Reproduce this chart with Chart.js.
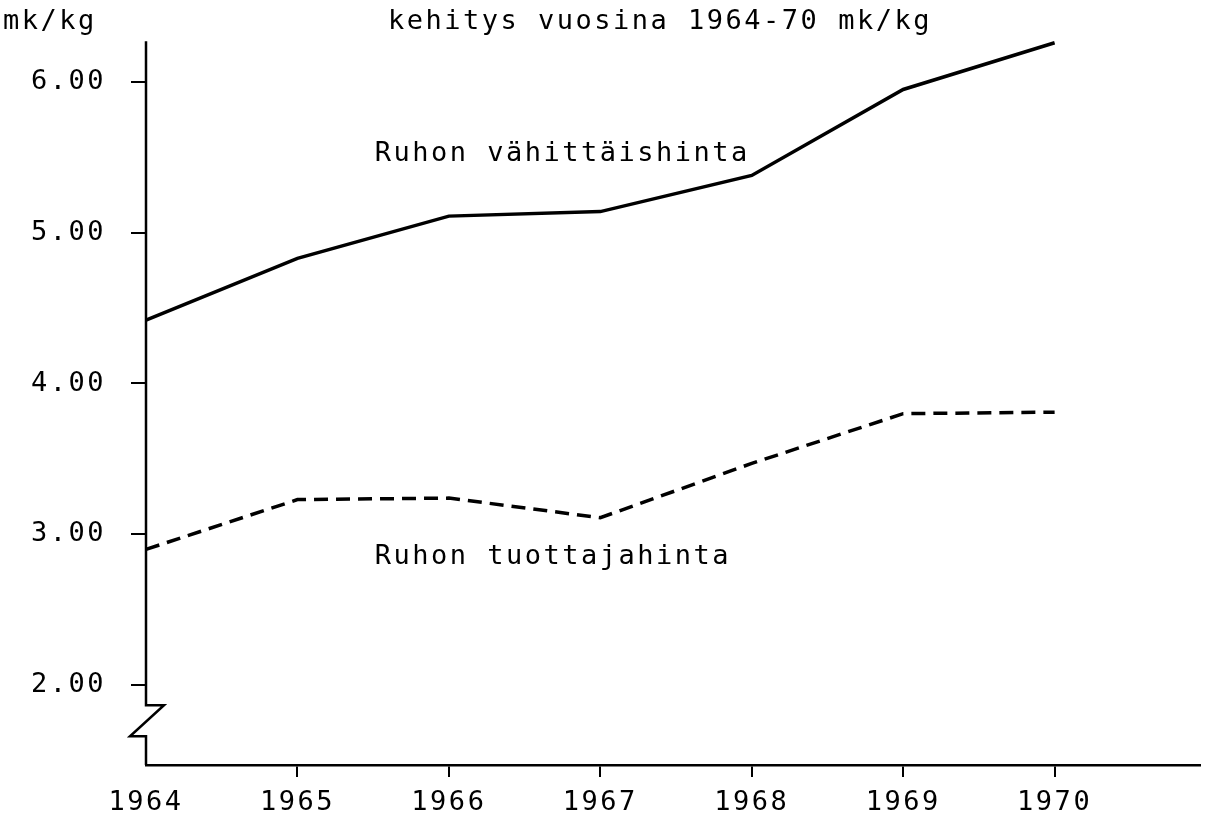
<!DOCTYPE html>
<html>
<head>
<meta charset="utf-8">
<script src="https://cdn.jsdelivr.net/npm/chart.js@4/dist/chart.umd.min.js"></script>
<style>
  html, body { margin: 0; padding: 0; background: #fff; }
  canvas { display: block; }
</style>
</head>
<body>
<canvas id="c" width="1214" height="822"></canvas>
<script>
// ---- data ----
const years = [1964, 1965, 1966, 1967, 1968, 1969, 1970];
const retailPrice   = [4.42, 4.83, 5.11, 5.14, 5.38, 5.95, 6.26]; // Ruhon vähittäishinta
const producerPrice = [2.90, 3.23, 3.24, 3.11, 3.47, 3.80, 3.81]; // Ruhon tuottajahinta
const xTickValues = [1964, 1965, 1966, 1967, 1968, 1969, 1970];
const yTickValues = [2, 3, 4, 5, 6];
const yUnitLabel = 'mk/kg';
const titleText = 'kehitys vuosina 1964-70 mk/kg';
const retailLabel = 'Ruhon vähittäishinta';
const producerLabel = 'Ruhon tuottajahinta';

const FONT = '"DejaVu Sans Mono", "Liberation Mono", monospace';
const FONT_SIZE = 27;
const SPACING = '2.5px';

const toPoints = (vals) => years.map((y, i) => ({ x: y, y: vals[i] }));

const spacingPlugin = {
  id: 'spacing',
  beforeUpdate(chart) { chart.ctx.letterSpacing = SPACING; },
  beforeDraw(chart) { chart.ctx.letterSpacing = SPACING; }
};

const decorPlugin = {
  id: 'decor',
  afterDraw(chart) {
    const ctx = chart.ctx;
    const xs = chart.scales.x, ys = chart.scales.y;
    const ax = xs.left;
    ctx.save();
    ctx.letterSpacing = SPACING;
    // y axis line with break
    ctx.strokeStyle = '#000';
    ctx.lineWidth = 2.5;
    ctx.lineJoin = 'miter';
    const yTop = ys.top;
    const yB1 = ys.getPixelForValue(1.867);
    const yB2 = ys.getPixelForValue(1.66);
    const yBot = ys.bottom;
    ctx.beginPath();
    ctx.moveTo(ax, yTop);
    ctx.lineTo(ax, yB1);
    ctx.lineTo(ax + 18, yB1);
    ctx.lineTo(ax - 16, yB2);
    ctx.lineTo(ax, yB2);
    ctx.lineTo(ax, yBot);
    ctx.stroke();

    // texts
    ctx.fillStyle = '#000';
    ctx.font = FONT_SIZE + 'px ' + FONT;
    ctx.textBaseline = 'middle';
    ctx.textAlign = 'left';
    ctx.fillText(yUnitLabel, 3, 22);
    ctx.fillText(titleText, 388, 22);

    ctx.fillText(retailLabel, xs.getPixelForValue(1965.51), ys.getPixelForValue(5.52));
    ctx.fillText(producerLabel, xs.getPixelForValue(1965.51), ys.getPixelForValue(2.85));
    ctx.restore();
  }
};

new Chart(document.getElementById('c'), {
  type: 'line',
  data: {
    datasets: [
      {
        label: retailLabel,
        data: toPoints(retailPrice),
        borderColor: '#000',
        borderWidth: 3.5,
        pointRadius: 0,
        tension: 0,
        fill: false,
        clip: false
      },
      {
        label: producerLabel,
        data: toPoints(producerPrice),
        borderColor: '#000',
        borderWidth: 3.5,
        borderDash: [14, 8],
        pointRadius: 0,
        tension: 0,
        fill: false,
        clip: false
      }
    ]
  },
  options: {
    responsive: false,
    animation: false,
    devicePixelRatio: 1,
    layout: { padding: { top: 40, right: 14, left: 0, bottom: 0 } },
    plugins: {
      legend: { display: false },
      title: { display: false },
      tooltip: { enabled: false }
    },
    scales: {
      x: {
        type: 'linear',
        min: 1964,
        max: 1970.96,
        afterBuildTicks: (s) => { s.ticks = xTickValues.map(v => ({ value: v })); },
        afterFit: (s) => { s.height = 57; },
        border: { display: true, color: '#000', width: 2.5 },
        grid: {
          drawOnChartArea: false,
          drawTicks: true,
          tickLength: 12,
          lineWidth: 2,
          color: (c) => (c.tick && c.tick.value === 1964) ? 'rgba(0,0,0,0)' : '#000'
        },
        ticks: {
          color: '#000',
          font: { family: FONT, size: FONT_SIZE },
          padding: 10,
          maxRotation: 0,
          autoSkip: false,
          callback: (v) => String(v)
        }
      },
      y: {
        type: 'linear',
        min: 1.47,
        max: 6.27,
        afterBuildTicks: (s) => { s.ticks = yTickValues.map(v => ({ value: v })); },
        afterFit: (s) => { s.width = 146; },
        border: { display: false },
        grid: {
          drawOnChartArea: false,
          drawTicks: true,
          tickLength: 15,
          lineWidth: 2,
          color: '#000'
        },
        ticks: {
          color: '#000',
          font: { family: FONT, size: FONT_SIZE },
          padding: 25,
          autoSkip: false,
          callback: (v) => Number(v).toFixed(2)
        }
      }
    }
  },
  plugins: [spacingPlugin, decorPlugin]
});
</script>
</body>
</html>
